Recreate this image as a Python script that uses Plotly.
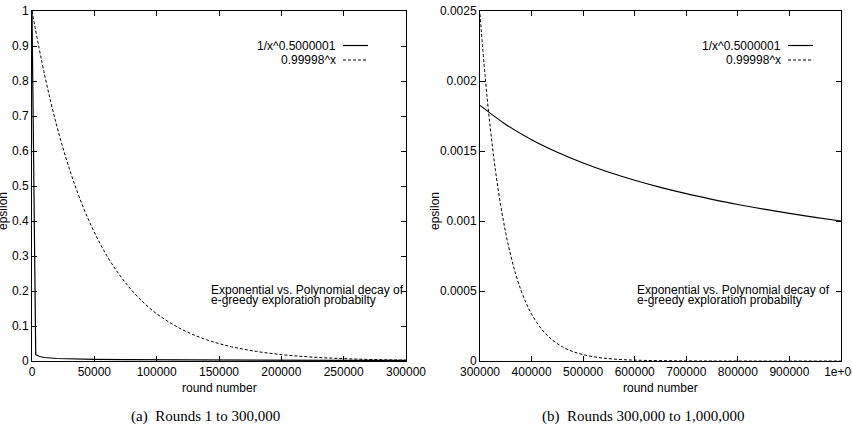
import plotly.graph_objects as go

# ---------------- data ----------------
# Panel (a): rounds 1 .. 300,000
a_poly_x = [1, 3000, 6000, 10000, 20000, 30000, 50000, 75000, 100000,
            150000, 200000, 250000, 300000]
a_poly_y = [1.0, 0.0183, 0.0129, 0.0100, 0.0071, 0.0058, 0.0045, 0.0037,
            0.0032, 0.0026, 0.0022, 0.0020, 0.0018]

a_exp_x = [0, 10000, 20000, 30000, 40000, 50000, 60000, 70000, 80000, 90000,
           100000, 110000, 120000, 130000, 140000, 150000, 160000, 170000,
           180000, 190000, 200000, 210000, 220000, 230000, 240000, 250000,
           260000, 270000, 280000, 290000, 300000]
a_exp_y = [1.0, 0.819, 0.670, 0.549, 0.449, 0.368, 0.301, 0.247, 0.202, 0.165,
           0.135, 0.111, 0.0907, 0.0743, 0.0608, 0.0498, 0.0408, 0.0334,
           0.0273, 0.0224, 0.0183, 0.0150, 0.0123, 0.0101, 0.0082, 0.0067,
           0.0055, 0.0045, 0.0037, 0.0030, 0.0025]

# Panel (b): rounds 300,000 .. 1,000,000
b_poly_x = [300000, 350000, 400000, 450000, 500000, 550000, 600000, 650000,
            700000, 750000, 800000, 850000, 900000, 950000, 1000000]
b_poly_y = [0.001826, 0.001690, 0.001581, 0.001491, 0.001414, 0.001348,
            0.001291, 0.001240, 0.001195, 0.001155, 0.001118, 0.001085,
            0.001054, 0.001026, 0.001000]

b_exp_x = [300000, 310000, 320000, 330000, 340000, 350000, 360000, 370000,
           380000, 390000, 400000, 420000, 440000, 460000, 480000, 500000,
           530000, 560000, 600000, 700000, 800000, 1000000]
b_exp_y = [0.002479, 0.002029, 0.001662, 0.001360, 0.001114, 0.000912,
           0.000747, 0.000611, 0.000500, 0.000410, 0.000335, 0.000225,
           0.000151, 0.000101, 0.0000677, 0.0000454, 0.0000249, 0.0000137,
           0.0000061, 0.0000008, 0.0000001, 0.0]

a_xticks = [0, 50000, 100000, 150000, 200000, 250000, 300000]
a_xtick_labels = ["0", "50000", "100000", "150000", "200000", "250000", "300000"]
a_yticks = [0, 0.1, 0.2, 0.3, 0.4, 0.5, 0.6, 0.7, 0.8, 0.9, 1]
a_ytick_labels = ["0", "0.1", "0.2", "0.3", "0.4", "0.5", "0.6", "0.7", "0.8", "0.9", "1"]
b_xticks = [300000, 400000, 500000, 600000, 700000, 800000, 900000, 1000000]
b_xtick_labels = ["300000", "400000", "500000", "600000", "700000", "800000", "900000", "1e+06"]
b_yticks = [0, 0.0005, 0.001, 0.0015, 0.002, 0.0025]
b_ytick_labels = ["0", "0.0005", "0.001", "0.0015", "0.002", "0.0025"]

series_names = ["1/x^0.5000001", "0.99998^x"]
captions = ["(a)  Rounds 1 to 300,000", "(b)  Rounds 300,000 to 1,000,000"]
note_lines = ["Exponential vs. Polynomial decay of", "e-greedy exploration probabilty"]

# ---------------- layout geometry ----------------
W, H = 852, 426
FONT = "Liberation Sans, Arial, sans-serif"
SERIF = "Liberation Serif, Times New Roman, serif"
FS = 12

def px_x(p):
    return p / W

def px_y(p):
    return 1 - p / H

A_DOM = [px_x(32), px_x(406)]
B_DOM = [px_x(480), px_x(841)]
Y_DOM = [px_y(361), px_y(11)]

fig = go.Figure()

solid = dict(color="black", width=1.2)
dashed = dict(color="black", width=1, dash="3px,2px")

fig.add_trace(go.Scatter(x=a_poly_x, y=a_poly_y, mode="lines", line=solid,
                         xaxis="x", yaxis="y", showlegend=False))
fig.add_trace(go.Scatter(x=a_exp_x, y=a_exp_y, mode="lines", line=dashed,
                         line_shape="spline", xaxis="x", yaxis="y", showlegend=False))
fig.add_trace(go.Scatter(x=b_poly_x, y=b_poly_y, mode="lines", line=solid,
                         line_shape="spline", xaxis="x2", yaxis="y2", showlegend=False))
fig.add_trace(go.Scatter(x=b_exp_x, y=b_exp_y, mode="lines", line=dashed,
                         line_shape="spline", xaxis="x2", yaxis="y2", showlegend=False))

axis_common = dict(showline=True, linecolor="black", linewidth=1, mirror="allticks",
                   ticks="inside", ticklen=5, tickcolor="black", tickwidth=1,
                   showgrid=False, zeroline=False, automargin=False,
                   ticklabeloverflow="allow",
                   tickfont=dict(family=FONT, size=FS, color="black"))

fig.update_layout(
    width=W, height=H,
    margin=dict(l=0, r=0, t=0, b=0),
    paper_bgcolor="white", plot_bgcolor="white",
    showlegend=False,
    xaxis=dict(domain=A_DOM, range=[0, 300000], anchor="y",
               tickmode="array", tickvals=a_xticks, ticktext=a_xtick_labels, **axis_common),
    yaxis=dict(domain=Y_DOM, range=[0, 1], anchor="x",
               tickmode="array", tickvals=a_yticks, ticktext=a_ytick_labels, **axis_common),
    xaxis2=dict(domain=B_DOM, range=[300000, 1000000], anchor="y2",
                tickmode="array", tickvals=b_xticks, ticktext=b_xtick_labels, **axis_common),
    yaxis2=dict(domain=Y_DOM, range=[0, 0.0025], anchor="x2",
                tickmode="array", tickvals=b_yticks, ticktext=b_ytick_labels, **axis_common),
)

ann = []
shapes = []
tfont = dict(family=FONT, size=FS, color="black")

for dom, title_x_px, ylab_x_px, key_text_right, note_left in [
    (A_DOM, 219, 3, 338, 209),
    (B_DOM, 660, 435, 783, 635),
]:
    # axis titles
    ann.append(dict(text="round number", x=px_x(title_x_px), y=px_y(388), xref="paper", yref="paper",
                    xanchor="center", yanchor="middle", showarrow=False, font=tfont))
    ann.append(dict(text="epsilon", x=px_x(ylab_x_px), y=px_y(211), xref="paper", yref="paper",
                    xanchor="center", yanchor="middle", textangle=-90, showarrow=False, font=tfont))
    # key
    for name, ypx, dsh in [(series_names[0], 45.5, None), (series_names[1], 60, "3px,2px")]:
        ann.append(dict(text=name, x=px_x(key_text_right), y=px_y(ypx), xref="paper", yref="paper",
                        xanchor="right", yanchor="middle", showarrow=False, font=tfont))
        line = dict(color="black", width=1.2 if dsh is None else 1)
        if dsh:
            line["dash"] = dsh
        shapes.append(dict(type="line", xref="paper", yref="paper",
                           x0=px_x(key_text_right + 5), x1=px_x(key_text_right + 30),
                           y0=px_y(ypx), y1=px_y(ypx), line=line))
    # note
    ann.append(dict(text=note_lines[0], x=px_x(note_left), y=px_y(290), xref="paper", yref="paper",
                    xanchor="left", yanchor="middle", showarrow=False, font=tfont))
    ann.append(dict(text=note_lines[1], x=px_x(note_left), y=px_y(300), xref="paper", yref="paper",
                    xanchor="left", yanchor="middle", showarrow=False, font=tfont))

ann.append(dict(text=captions[0], x=px_x(205), y=px_y(416), xref="paper", yref="paper",
                xanchor="center", yanchor="middle", showarrow=False,
                font=dict(family=SERIF, size=15, color="black")))
ann.append(dict(text=captions[1], x=px_x(643), y=px_y(416), xref="paper", yref="paper",
                xanchor="center", yanchor="middle", showarrow=False,
                font=dict(family=SERIF, size=15, color="black")))

fig.update_layout(annotations=ann, shapes=shapes)
fig.write_html("out.html")
